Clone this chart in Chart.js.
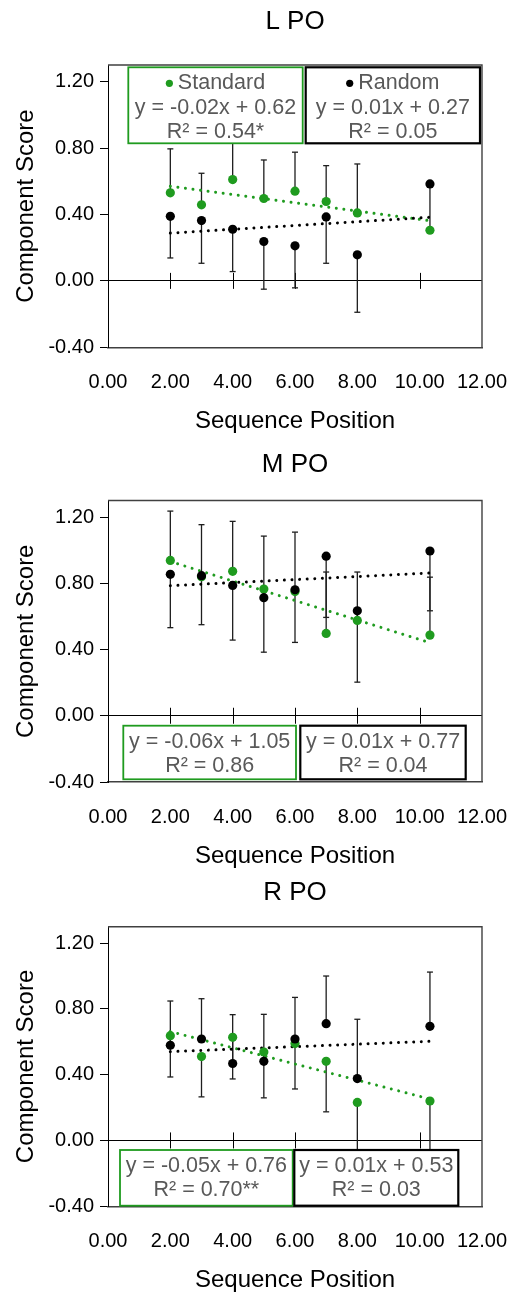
<!DOCTYPE html>
<html><head><meta charset="utf-8">
<script src="https://cdn.jsdelivr.net/npm/chart.js@4.4.1/dist/chart.umd.min.js"></script>
<style>
html,body{margin:0;padding:0;background:#fff;width:514px;height:1297px;overflow:hidden;position:relative;}
canvas{position:absolute;left:0;}
</style></head><body>
<canvas id="c1"></canvas><canvas id="c2"></canvas><canvas id="c3"></canvas>
<script>
// ---------- data ----------
const positions = [2, 3, 4, 5, 6, 7, 8, 10.33];
const panelTitles = ['L PO', 'M PO', 'R PO'];
const xAxisTitle = 'Sequence Position';
const yAxisTitle = 'Component Score';
const seriesNames = ['Standard', 'Random'];
const yTickValues = [-0.4, 0, 0.4, 0.8, 1.2];
const xTickValues = [0, 2, 4, 6, 8, 10, 12];

// L PO
const lStandard = [0.530, 0.458, 0.610, 0.496, 0.540, 0.478, 0.409, 0.305];
const lRandom = [0.389, 0.363, 0.311, 0.237, 0.211, 0.385, 0.157, 0.584];
const lStandardErrPlus = [0.265, 0.190, 0.300, 0.232, 0.235, 0.216, 0.295, 0];
const lStandardErrMinus = [0, 0, 0, 0, 0, 0, 0, 0];
const lRandomErrPlus = [0, 0, 0, 0, 0, 0, 0, 0];
const lRandomErrMinus = [0.251, 0.257, 0.255, 0.287, 0.253, 0.279, 0.346, 0.279];
const lStandardLabel = ['y = -0.02x + 0.62', 'R² = 0.54*'];
const lRandomLabel = ['y = 0.01x + 0.27', 'R² = 0.05'];

// M PO
const mStandard = [0.938, 0.840, 0.872, 0.765, 0.750, 0.497, 0.576, 0.487];
const mRandom = [0.854, 0.846, 0.787, 0.713, 0.761, 0.964, 0.634, 0.995];
const mStandardErrPlus = [0.298, 0.314, 0.302, 0.320, 0.359, 0.371, 0.292, 0.350];
const mStandardErrMinus = [0, 0, 0, 0, 0, 0, 0, 0];
const mRandomErrPlus = [0, 0, 0, 0, 0, 0, 0, 0];
const mRandomErrMinus = [0.322, 0.296, 0.330, 0.329, 0.318, 0.370, 0.431, 0.361];
const mStandardLabel = ['y = -0.06x + 1.05', 'R² = 0.86'];
const mRandomLabel = ['y = 0.01x + 0.77', 'R² = 0.04'];

// R PO
const rStandard = [0.637, 0.510, 0.627, 0.538, 0.589, 0.481, 0.231, 0.240];
const rRandom = [0.579, 0.617, 0.468, 0.481, 0.617, 0.710, 0.376, 0.694];
const rStandardErrPlus = [0, 0, 0, 0, 0, 0, 0, 0];
const rStandardErrMinus = [0.251, 0.245, 0.253, 0.279, 0.276, 0.307, 0.350, 0.350];
const rRandomErrPlus = [0.269, 0.245, 0.297, 0.286, 0.253, 0.290, 0.361, 0.330];
const rRandomErrMinus = [0, 0, 0, 0, 0, 0, 0, 0];
const rStandardLabel = ['y = -0.05x + 0.76', 'R² = 0.70**'];
const rRandomLabel = ['y = 0.01x + 0.53', 'R² = 0.03'];

// ---------- styling / layout ----------
const GREEN = '#1f9b1f';
const BLACK = '#000000';
const FONT = '"Liberation Sans", Arial, Helvetica, sans-serif';
const LEGEND_TEXT = '#595959';

const panels = [
  { id: 'c1', title: panelTitles[0], top: 0, chartTop: 65, chartBottom: 347.3,
    std: lStandard, rnd: lRandom,
    stdPlus: lStandardErrPlus, stdMinus: lStandardErrMinus, rndPlus: lRandomErrPlus, rndMinus: lRandomErrMinus,
    boxes: [
      { x1: 128.3, x2: 302.7, y1: 67.3, y2: 143.3, color: GREEN, marker: seriesNames[0], lines: lStandardLabel },
      { x1: 305.7, x2: 480.0, y1: 67.3, y2: 143.3, color: BLACK, marker: seriesNames[1], lines: lRandomLabel }
    ] },
  { id: 'c2', title: panelTitles[1], top: 443, chartTop: 500.5, chartBottom: 782,
    std: mStandard, rnd: mRandom,
    stdPlus: mStandardErrPlus, stdMinus: mStandardErrMinus, rndPlus: mRandomErrPlus, rndMinus: mRandomErrMinus,
    boxes: [
      { x1: 123.3, x2: 296.0, y1: 725.7, y2: 779.3, color: GREEN, lines: mStandardLabel },
      { x1: 300.3, x2: 465.7, y1: 725.7, y2: 779.3, color: BLACK, lines: mRandomLabel }
    ] },
  { id: 'c3', title: panelTitles[2], top: 871, chartTop: 926.7, chartBottom: 1206.2,
    std: rStandard, rnd: rRandom,
    stdPlus: rStandardErrPlus, stdMinus: rStandardErrMinus, rndPlus: rRandomErrPlus, rndMinus: rRandomErrMinus,
    boxes: [
      { x1: 120.0, x2: 292.7, y1: 1150, y2: 1205.7, color: GREEN, lines: rStandardLabel },
      { x1: 294.3, x2: 458.3, y1: 1150, y2: 1205.7, color: BLACK, lines: rRandomLabel }
    ] }
];

function linReg(xs, ys) {
  const n = xs.length;
  const mx = xs.reduce((a, b) => a + b, 0) / n;
  const my = ys.reduce((a, b) => a + b, 0) / n;
  let sxy = 0, sxx = 0;
  for (let i = 0; i < n; i++) { sxy += (xs[i] - mx) * (ys[i] - my); sxx += (xs[i] - mx) * (xs[i] - mx); }
  const b = sxy / sxx;
  return { b, a: my - b * mx };
}
function trendData(ys) {
  const { a, b } = linReg(positions, ys);
  const x0 = Math.min(...positions), x1 = Math.max(...positions);
  return [{ x: x0, y: a + b * x0 }, { x: x1, y: a + b * x1 }];
}

function makePlugin(p) {
  return {
    id: 'decor_' + p.id,
    beforeDatasetsDraw(chart) {
      const { ctx, scales: { x, y } } = chart;
      ctx.save();
      // crossing tick marks on the zero line
      const y0 = y.getPixelForValue(0);
      ctx.strokeStyle = '#000'; ctx.lineWidth = 1;
      x.ticks.forEach(t => {
        if (t.value > x.min && t.value < x.max) {
          const px = Math.round(x.getPixelForValue(t.value)) + 0.5;
          ctx.beginPath(); ctx.moveTo(px, y0 - 8); ctx.lineTo(px, y0 + 8); ctx.stroke();
        }
      });
      // error bars
      const sets = [
        { vals: p.std, plus: p.stdPlus, minus: p.stdMinus },
        { vals: p.rnd, plus: p.rndPlus, minus: p.rndMinus }
      ];
      ctx.strokeStyle = '#1e1e1e'; ctx.lineWidth = 1.3;
      sets.forEach(s => {
        positions.forEach((xv, i) => {
          const px = x.getPixelForValue(xv);
          const pv = y.getPixelForValue(s.vals[i]);
          [[s.plus[i], 1], [s.minus[i], -1]].forEach(([e, dir]) => {
            if (!e) return;
            const pe = y.getPixelForValue(s.vals[i] + dir * e);
            ctx.beginPath(); ctx.moveTo(px, pv); ctx.lineTo(px, pe); ctx.stroke();
            ctx.beginPath(); ctx.moveTo(px - 3, pe); ctx.lineTo(px + 3, pe); ctx.stroke();
          });
        });
      });
      ctx.restore();
    },
    afterDraw(chart) {
      const { ctx, chartArea: ca } = chart;
      ctx.save();
      // top and right plot-area border
      ctx.strokeStyle = '#404040'; ctx.lineWidth = 1.4;
      ctx.beginPath();
      ctx.moveTo(ca.left, ca.top); ctx.lineTo(ca.right, ca.top); ctx.lineTo(ca.right, ca.bottom);
      ctx.stroke();
      // trendline label boxes
      p.boxes.forEach(b => {
        const y1 = b.y1 - p.top, y2 = b.y2 - p.top;
        ctx.fillStyle = '#fff';
        ctx.fillRect(b.x1, y1, b.x2 - b.x1, y2 - y1);
        ctx.strokeStyle = b.color; ctx.lineWidth = b.color === BLACK ? 2.2 : 1.8;
        ctx.strokeRect(b.x1, y1, b.x2 - b.x1, y2 - y1);
        ctx.font = '21.5px ' + FONT;
        ctx.fillStyle = LEGEND_TEXT;
        ctx.textBaseline = 'middle';
        const cx = (b.x1 + b.x2) / 2;
        let ly = y1 + 16;
        if (b.marker) {
          const w = ctx.measureText(b.marker).width;
          const total = 7 + 5 + w;
          const sx = cx - total / 2;
          ctx.fillStyle = b.color;
          ctx.beginPath(); ctx.arc(sx + 3.5, ly, 3.6, 0, Math.PI * 2); ctx.fill();
          ctx.fillStyle = LEGEND_TEXT;
          ctx.textAlign = 'left';
          ctx.fillText(b.marker, sx + 12, ly);
          ly += 24.3;
        }
        ctx.textAlign = 'center';
        b.lines.forEach(t => { ctx.fillText(t, cx, ly); ly += 24.3; });
      });
      ctx.restore();
    }
  };
}

panels.forEach(p => {
  const canvas = document.getElementById(p.id);
  const H = Math.round(p.chartBottom - p.top + 95);
  canvas.width = 514; canvas.height = H;
  canvas.style.width = '514px'; canvas.style.height = H + 'px';
  canvas.style.top = p.top + 'px';
  const titlePadTop = 6.4;
  const titlePadBottom = (p.chartTop - p.top) - titlePadTop - 31.2;
  const xh = H - (p.chartBottom - p.top);
  const xTitlePad = xh - 74 - 14.4;

  new Chart(canvas, {
    type: 'scatter',
    data: {
      datasets: [
        { label: seriesNames[1], data: positions.map((x, i) => ({ x, y: p.rnd[i] })),
          pointRadius: 4.6, pointHoverRadius: 4.6, backgroundColor: BLACK, borderWidth: 0, order: 0 },
        { label: seriesNames[0], data: positions.map((x, i) => ({ x, y: p.std[i] })),
          pointRadius: 4.6, pointHoverRadius: 4.6, backgroundColor: GREEN, borderWidth: 0, order: 1 },
        { type: 'line', label: 'trend random', data: trendData(p.rnd), borderColor: BLACK, borderWidth: 3,
          borderDash: [0.01, 7.6], borderCapStyle: 'round', pointRadius: 0, fill: false, order: 2 },
        { type: 'line', label: 'trend standard', data: trendData(p.std), borderColor: GREEN, borderWidth: 3,
          borderDash: [0.01, 7.6], borderCapStyle: 'round', pointRadius: 0, fill: false, order: 3 }
      ]
    },
    options: {
      responsive: false, animation: false, devicePixelRatio: 1,
      layout: { padding: { left: 0, right: 32, top: 0, bottom: 0 } },
      plugins: {
        legend: { display: false }, tooltip: { enabled: false },
        title: { display: true, text: p.title, fullSize: false, color: '#000',
          font: { family: FONT, size: 26, weight: 'normal' },
          padding: { top: titlePadTop, bottom: titlePadBottom } }
      },
      scales: {
        x: {
          type: 'linear', min: 0, max: 12,
          afterBuildTicks: s => { s.ticks = xTickValues.map(v => ({ value: v })); },
          afterFit: s => { s.height = xh; s.paddingLeft = 0; s.paddingRight = 0; },
          ticks: { autoSkip: false, maxRotation: 0, minRotation: 0, padding: 23, color: '#000',
            font: { family: FONT, size: 20 }, callback: v => Number(v).toFixed(2) },
          grid: { display: false, drawTicks: false },
          border: { display: true, color: '#404040', width: 1.4 },
          title: { display: true, text: xAxisTitle, color: '#000', font: { family: FONT, size: 24 },
            padding: { top: 0, bottom: xTitlePad } }
        },
        y: {
          type: 'linear', min: -0.4, max: 1.3,
          afterBuildTicks: s => { s.ticks = yTickValues.map(v => ({ value: v })); },
          afterFit: s => { s.width = 108; s.paddingTop = 0; s.paddingBottom = 0; },
          ticks: { padding: 6, color: '#000', font: { family: FONT, size: 20 },
            callback: v => Number(v).toFixed(2) },
          grid: { drawTicks: true, tickLength: 8, tickColor: '#000', lineWidth: 1,
            color: c => (c.tick && Math.abs(c.tick.value) < 1e-9) ? '#000' : 'rgba(0,0,0,0)' },
          border: { display: true, color: '#000', width: 1 },
          title: { display: true, text: yAxisTitle, color: '#000', font: { family: FONT, size: 24 },
            padding: { top: 11.6, bottom: 0 } }
        }
      }
    },
    plugins: [makePlugin(p)]
  });
});
</script>
</body></html>
